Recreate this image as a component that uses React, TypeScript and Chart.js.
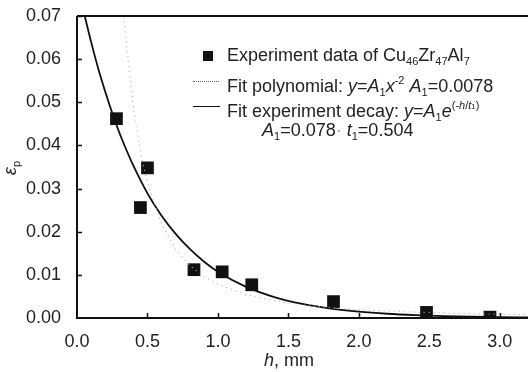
import React, { useEffect, useRef } from "react";
import { Chart, registerables } from "chart.js";
Chart.register(...registerables);

// Experimental data (h in mm, eps_p)
const expH = [0.28, 0.45, 0.5, 0.83, 1.03, 1.24, 1.82, 2.48, 2.93];
const expEps = [0.0462, 0.0256, 0.0348, 0.0112, 0.0107, 0.0077, 0.0038, 0.0013, 0.0002];

const decayH = [0.055, 0.1, 0.15, 0.2, 0.25, 0.3, 0.35, 0.4, 0.5, 0.6, 0.7, 0.8, 0.9, 1.0, 1.2, 1.4, 1.6, 1.8, 2.0, 2.2, 2.4, 2.6, 2.8, 3.0, 3.2];
const decayEps = [0.07, 0.064, 0.0579, 0.0525, 0.0475, 0.043, 0.039, 0.0353, 0.0289, 0.0237, 0.0195, 0.016, 0.0131, 0.0107, 0.0072, 0.00485, 0.00326, 0.00219, 0.00147, 0.00099, 0.00067, 0.00045, 0.0003, 0.0002, 0.00013];

// Fit polynomial curve
const polyH = [0.334, 0.35, 0.4, 0.45, 0.5, 0.6, 0.7, 0.8, 0.9, 1.0, 1.2, 1.4, 1.6, 1.8, 2.0, 2.4, 2.8, 3.2];
const polyEps = [0.0699, 0.0637, 0.0488, 0.0385, 0.0312, 0.0217, 0.0159, 0.0122, 0.0096, 0.0078, 0.0054, 0.004, 0.003, 0.0024, 0.00195, 0.00135, 0.001, 0.00076];

const xTicks = [0, 0.5, 1.0, 1.5, 2.0, 2.5, 3.0];
const yTicks = [0, 0.01, 0.02, 0.03, 0.04, 0.05, 0.06, 0.07];

const FONT = "'Liberation Sans', Arial, sans-serif";

export default function App() {
  const ref = useRef<HTMLCanvasElement | null>(null);

  useEffect(() => {
    if (!ref.current) return;
    const framePlugin = {
      id: "frame",
      afterDraw(chart: any) {
        const { ctx, chartArea } = chart;
        const xs = chart.scales.x;
        const ys = chart.scales.y;
        ctx.save();
        ctx.strokeStyle = "#111";
        ctx.lineWidth = 2;
        ctx.beginPath();
        ctx.moveTo(chartArea.left, chartArea.top);
        ctx.lineTo(chartArea.left, chartArea.bottom);
        ctx.lineTo(chartArea.right + 2, chartArea.bottom);
        ctx.moveTo(chartArea.left, chartArea.top);
        ctx.lineTo(chartArea.right + 2, chartArea.top);
        ctx.stroke();
        ctx.lineWidth = 1.5;
        ctx.beginPath();
        yTicks.forEach((v) => {
          if (v === 0) return;
          const y = Math.round(ys.getPixelForValue(v)) + 0.5;
          ctx.moveTo(chartArea.left, y);
          ctx.lineTo(chartArea.left + 5, y);
        });
        xTicks.forEach((v) => {
          if (v === 0) return;
          const x = Math.round(xs.getPixelForValue(v)) + 0.5;
          ctx.moveTo(x, chartArea.bottom);
          ctx.lineTo(x, chartArea.bottom - 5);
        });
        ctx.stroke();
        ctx.restore();
      },
    };

    const chart = new Chart(ref.current, {
      type: "scatter",
      data: {
        datasets: [
          {
            label: "poly",
            data: polyH.map((h, i) => ({ x: h, y: polyEps[i] })),
            showLine: true,
            borderColor: "#b0b0b0",
            borderWidth: 1.2,
            borderDash: [1, 4],
            pointRadius: 0,
          },
          {
            label: "decay",
            data: decayH.map((h, i) => ({ x: h, y: decayEps[i] })),
            showLine: true,
            borderColor: "#111",
            borderWidth: 1.8,
            pointRadius: 0,
            cubicInterpolationMode: "monotone",
          },
          {
            label: "exp",
            data: expH.map((h, i) => ({ x: h, y: expEps[i] })),
            showLine: false,
            pointStyle: "rect",
            pointRadius: 9,
            backgroundColor: "#111",
            borderColor: "#111",
            borderWidth: 0,
          },
        ],
      },
      options: {
        animation: false,
        responsive: false,
        maintainAspectRatio: false,
        layout: { autoPadding: false, padding: { left: 0, right: 0, top: 16, bottom: 0 } },
        plugins: { legend: { display: false }, tooltip: { enabled: false } },
        scales: {
          x: {
            type: "linear",
            min: 0,
            max: 3.2,
            grid: { display: false },
            border: { display: false },
            afterBuildTicks: (s: any) => {
              s.ticks = xTicks.map((v) => ({ value: v }));
            },
            afterFit: (s: any) => {
              s.height = 54;
              s.paddingLeft = 0;
              s.paddingRight = 0;
            },
            ticks: {
              color: "#222",
              font: { family: FONT, size: 18 },
              padding: 5,
              maxRotation: 0,
              callback: (v: any) => Number(v).toFixed(1),
            },
          },
          y: {
            type: "linear",
            min: 0,
            max: 0.07,
            grid: { display: false },
            border: { display: false },
            afterBuildTicks: (s: any) => {
              s.ticks = yTicks.map((v) => ({ value: v }));
            },
            afterFit: (s: any) => {
              s.width = 77;
              s.paddingTop = 0;
              s.paddingBottom = 0;
            },
            ticks: {
              color: "#222",
              font: { family: FONT, size: 18 },
              padding: 8,
              callback: (v: any) => Number(v).toFixed(2),
            },
          },
        },
      },
      plugins: [framePlugin],
    } as any);
    return () => chart.destroy();
  }, []);

  const txt: React.CSSProperties = {
    position: "absolute",
    fontFamily: FONT,
    fontSize: 18,
    color: "#222",
    whiteSpace: "nowrap",
    lineHeight: "20px",
  };
  const sub: React.CSSProperties = { fontSize: 11, verticalAlign: "-4px" };
  const sup: React.CSSProperties = { fontSize: 11, verticalAlign: "8px" };

  return (
    <div style={{ position: "absolute", left: 0, top: 0, width: 528, height: 372, background: "#fff", overflow: "hidden" }}>
      <canvas ref={ref} width={528} height={372} style={{ display: "block" }} />
      {/* legend */}
      <div style={{ position: "absolute", left: 203, top: 51, width: 10, height: 10, background: "#111" }} />
      <div style={{ ...txt, left: 227, top: 45 }}>
        Experiment data of Cu<span style={sub}>46</span>Zr<span style={sub}>47</span>Al<span style={sub}>7</span>
      </div>
      <div style={{ position: "absolute", left: 193, top: 81, width: 26, height: 0, borderTop: "1.5px dotted #666" }} />
      <div style={{ ...txt, left: 227, top: 70 }}>
        Fit polynomial: <i>y</i>=<i>A</i><span style={sub}>1</span><i>x</i><span style={sup}>-2</span> <i>A</i><span style={sub}>1</span>=0.0078
      </div>
      <div style={{ position: "absolute", left: 193, top: 106, width: 27, height: 0, borderTop: "1.8px solid #111" }} />
      <div style={{ ...txt, left: 227, top: 95 }}>
        Fit experiment decay: <i>y</i>=<i>A</i><span style={sub}>1</span><i>e</i><span style={sup}>(-<i>h</i>/<i>t</i><span style={{ fontSize: 8 }}>1</span>)</span>
      </div>
      <div style={{ ...txt, left: 262, top: 120 }}>
        <i>A</i><span style={sub}>1</span>=0.078<span style={{ color: "#999" }}>·</span> <i>t</i><span style={sub}>1</span>=0.504
      </div>
      {/* axis titles */}
      <div style={{ ...txt, left: 289, top: 350, transform: "translateX(-50%)" }}>
        <i>h</i>, mm
      </div>
      <div style={{ ...txt, left: 13, top: 168, transform: "translate(-50%, -50%) rotate(-90deg)" }}>
        <i>ε</i><span style={sub}>p</span>
      </div>
    </div>
  );
}
